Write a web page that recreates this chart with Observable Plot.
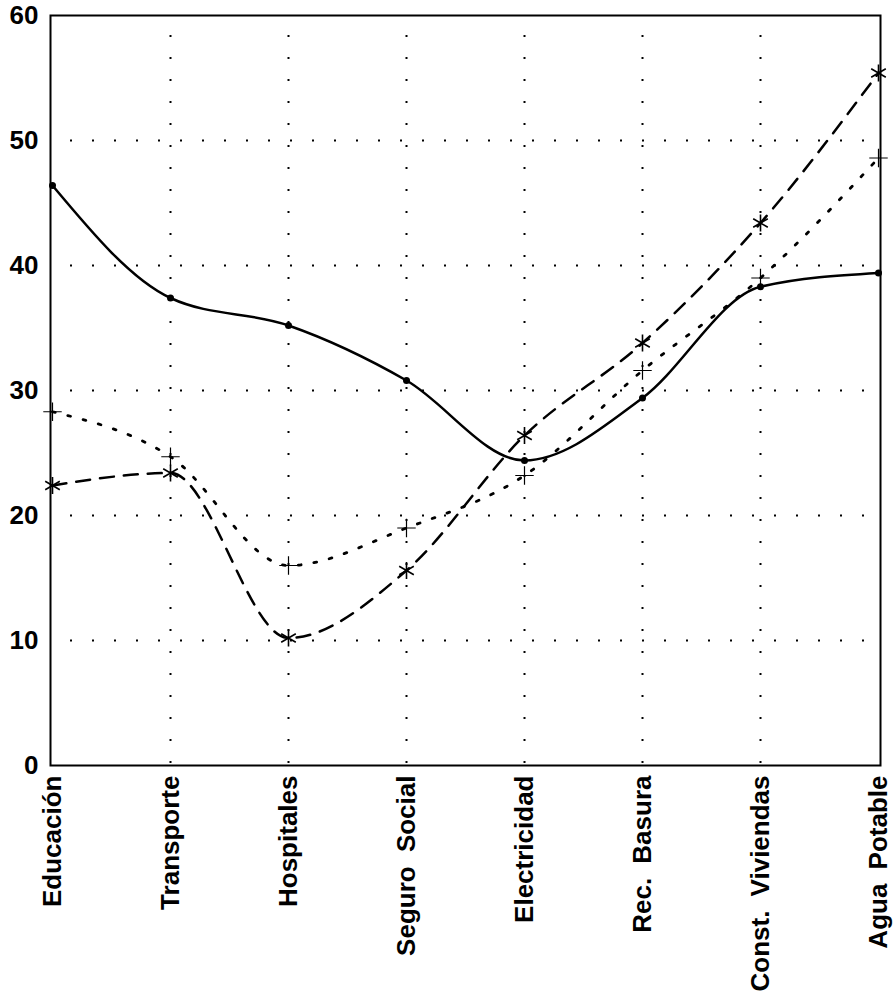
<!DOCTYPE html>
<html>
<head>
<meta charset="utf-8">
<script src="https://cdn.jsdelivr.net/npm/d3@7"></script>
<script src="https://cdn.jsdelivr.net/npm/@observablehq/plot@0.6"></script>
<style>
  html, body { margin: 0; padding: 0; background: #fff; }
  #chart svg { display: block; }
  #chart svg text { word-spacing: 7px; }
</style>
</head>
<body>
<div id="chart"></div>
<script>
const categories = ["Educación", "Transporte", "Hospitales", "Seguro Social", "Electricidad", "Rec. Basura", "Const. Viviendas", "Agua Potable"];
const solidValues = [46.4, 37.4, 35.2, 30.8, 24.4, 29.4, 38.3, 39.4];
const dashedValues = [22.4, 23.4, 10.2, 15.6, 26.4, 33.8, 43.4, 55.4];
const dottedValues = [28.3, 24.7, 16.0, 19.0, 23.2, 31.6, 39.0, 48.6];
const yTicks = [0, 10, 20, 30, 40, 50, 60];
const yGrid = [10, 20, 30, 40, 50];

const solid = categories.map((c, i) => ({cat: c, v: solidValues[i]}));
const dashed = categories.map((c, i) => ({cat: c, v: dashedValues[i]}));
const dotted = categories.map((c, i) => ({cat: c, v: dottedValues[i]}));

const chart = Plot.plot({
  width: 895,
  height: 992,
  marginLeft: 50,
  marginRight: 15,
  marginTop: 15,
  marginBottom: 227,
  style: {fontFamily: "'Liberation Sans', Arial, Helvetica, sans-serif", background: "#fff", color: "#000"},
  x: {type: "point", domain: categories, padding: 0},
  y: {domain: [0, 60]},
  marks: [
    Plot.ruleX(categories.slice(1, -1), {stroke: "#000", strokeWidth: 2, strokeDasharray: "2,20", strokeDashoffset: -20}),
    Plot.ruleY(yGrid, {stroke: "#000", strokeWidth: 2, strokeDasharray: "2,20", strokeDashoffset: -20}),
    Plot.line(solid, {x: "cat", y: "v", curve: "monotone-x", stroke: "#000", strokeWidth: 2.5}),
    Plot.line(dashed, {x: "cat", y: "v", curve: "monotone-x", stroke: "#000", strokeWidth: 2.5, strokeDasharray: "14,10"}),
    Plot.line(dotted, {x: "cat", y: "v", curve: "monotone-x", stroke: "#000", strokeWidth: 2.8, strokeDasharray: "2.8,13"}),
    Plot.dot(solid, {x: "cat", y: "v", r: 3.5, fill: "#000", stroke: "none"}),
    Plot.dot(dashed, {x: "cat", y: "v", symbol: "asterisk", r: 8, stroke: "#000", strokeWidth: 1.6}),
    Plot.dot(dotted, {x: "cat", y: "v", symbol: "plus", r: 6, stroke: "#000", strokeWidth: 1.2}),
    Plot.frame({stroke: "#000", strokeWidth: 2}),
    Plot.axisY(yTicks, {tickSize: 0, tickPadding: 12, fontSize: 26, fontWeight: "bold", label: null}),
    Plot.axisX(categories, {tickSize: 0, tickPadding: 10, tickRotate: -90, fontSize: 26, fontWeight: "bold", label: null})
  ]
});
document.getElementById("chart").appendChild(chart);
</script>
</body>
</html>
